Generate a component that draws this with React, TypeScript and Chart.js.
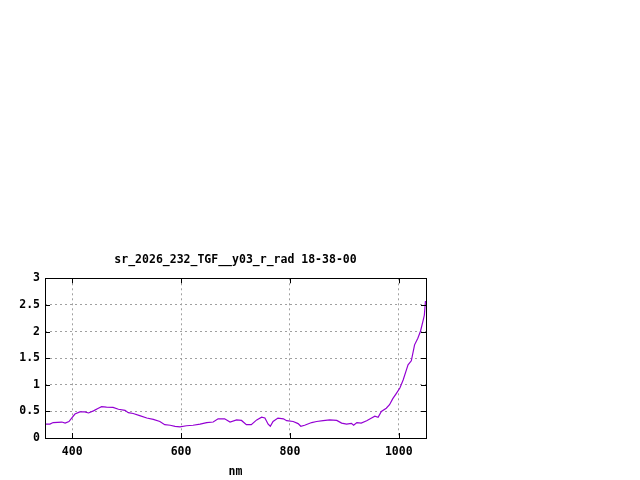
import { useEffect, useRef } from "react"
import { Chart, registerables, type ChartConfiguration, type Plugin } from "chart.js"

Chart.register(...registerables)

const titleText = "sr_2026_232_TGF__y03_r_rad 18-38-00"
const xLabel = "nm"

// wavelength (nm) and radiance
const wavelengths = [
  350, 359, 365, 381, 387, 394, 399, 405, 414, 423, 430, 439, 448, 454, 463, 475, 485, 497, 503, 512,
  524, 537, 549, 561, 570, 580, 589, 598, 610, 622, 635, 647, 659, 668, 680, 690, 702, 711, 720, 729,
  739, 748, 754, 760, 764, 769, 778, 788, 794, 806, 815, 820, 827, 840, 849, 861, 873, 886, 895, 904,
  913, 917, 923, 931, 941, 950, 956, 962, 968, 977, 983, 989, 995, 1002, 1008, 1014, 1017, 1023, 1029, 1035,
  1040, 1045, 1047, 1049,
]
const radiance = [
  0.26, 0.26, 0.29, 0.3, 0.28, 0.31, 0.375, 0.45, 0.49, 0.49, 0.47, 0.51, 0.56, 0.59, 0.58, 0.575, 0.54, 0.52, 0.475, 0.46,
  0.42, 0.375, 0.35, 0.31, 0.25, 0.24, 0.22, 0.21, 0.23, 0.24, 0.26, 0.29, 0.3, 0.36, 0.36, 0.3, 0.34, 0.33, 0.25, 0.25,
  0.34, 0.39, 0.375, 0.26, 0.22, 0.31, 0.375, 0.36, 0.325, 0.31, 0.27, 0.22, 0.24, 0.29, 0.31, 0.325, 0.34, 0.33, 0.28, 0.26,
  0.275, 0.24, 0.29, 0.28, 0.325, 0.375, 0.41, 0.39, 0.5, 0.56, 0.625, 0.74, 0.83, 0.94, 1.09, 1.28, 1.375, 1.45, 1.75, 1.875,
  2.01, 2.22, 2.31, 2.575,
]

const xTicks = [400, 600, 800, 1000]
const yTicks = [0, 0.5, 1, 1.5, 2, 2.5, 3]

const font = { family: "'DejaVu Sans Mono', monospace", size: 11.5, weight: "bold" as const }

// gnuplot style frame: full border with inward tick marks on all sides
const framePlugin: Plugin = {
  id: "frame",
  afterDraw(chart) {
    const { ctx, chartArea: a, scales } = chart
    const len = 5
    ctx.save()
    ctx.strokeStyle = "#000"
    ctx.lineWidth = 1
    ctx.beginPath()
    for (const t of scales.x.ticks) {
      const px = Math.round(scales.x.getPixelForValue(t.value)) + 0.5
      ctx.moveTo(px, a.bottom)
      ctx.lineTo(px, a.bottom - len)
      ctx.moveTo(px, a.top)
      ctx.lineTo(px, a.top + len)
    }
    for (const t of scales.y.ticks) {
      const py = Math.round(scales.y.getPixelForValue(t.value)) + 0.5
      ctx.moveTo(a.left, py)
      ctx.lineTo(a.left + len, py)
      ctx.moveTo(a.right, py)
      ctx.lineTo(a.right - len, py)
    }
    ctx.stroke()
    ctx.strokeRect(Math.round(a.left) + 0.5, Math.round(a.top) + 0.5, Math.round(a.right - a.left), Math.round(a.bottom - a.top))
    ctx.restore()
  },
}

export default function App() {
  const canvasRef = useRef<HTMLCanvasElement>(null)
  const chartRef = useRef<Chart | null>(null)

  useEffect(() => {
    if (!canvasRef.current) return

    const config: ChartConfiguration<"line"> = {
      type: "line",
      data: {
        datasets: [
          {
            data: wavelengths.map((w, i) => ({ x: w, y: radiance[i] })),
            borderColor: "#9400d3",
            borderWidth: 1.2,
            pointRadius: 0,
            tension: 0,
            fill: false,
          },
        ],
      },
      options: {
        responsive: false,
        animation: false,
        devicePixelRatio: 1,
        layout: { padding: { top: 0, left: 0, right: 214, bottom: 0 } },
        plugins: {
          legend: { display: false },
          tooltip: { enabled: false },
          title: {
            display: true,
            fullSize: false,
            text: titleText,
            color: "#000",
            font,
            padding: { top: 253, bottom: 11.5 },
          },
        },
        scales: {
          x: {
            type: "linear",
            min: 350,
            max: 1050,
            afterBuildTicks: (s) => {
              s.ticks = xTicks.map((v) => ({ value: v }))
            },
            afterFit: (s) => {
              s.height = 42
            },
            grid: { color: "#a0a0a0", drawTicks: false },
            border: { display: false, dash: [2, 3] },
            ticks: { color: "#000", font, padding: 7, callback: (v) => String(v) },
            title: { display: true, text: xLabel, color: "#000", font, padding: { top: 0, bottom: 1.5 } },
          },
          y: {
            type: "linear",
            min: 0,
            max: 3,
            afterBuildTicks: (s) => {
              s.ticks = yTicks.map((v) => ({ value: v }))
            },
            afterFit: (s) => {
              s.width = 45
            },
            grid: { color: "#a0a0a0", drawTicks: false },
            border: { display: false, dash: [2, 3] },
            ticks: { color: "#000", font, padding: 5, callback: (v) => String(v) },
          },
        },
      },
      plugins: [framePlugin],
    }

    chartRef.current = new Chart(canvasRef.current, config)

    return () => {
      chartRef.current?.destroy()
      chartRef.current = null
    }
  }, [])

  return (
    <div style={{ position: "absolute", left: 0, top: 0, width: 640, height: 480, background: "#fff" }}>
      <canvas ref={canvasRef} width={640} height={480} style={{ width: 640, height: 480 }} />
    </div>
  )
}
